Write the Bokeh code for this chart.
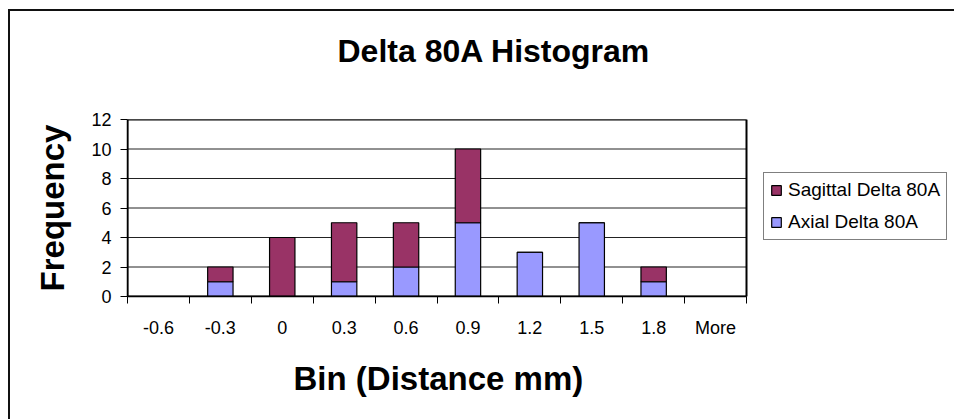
from bokeh.plotting import figure
from bokeh.models import (Range1d, LinearAxis, FixedTicker, Legend,
                          LegendItem, ColumnDataSource, Title)
from bokeh.embed import file_html
from bokeh.resources import INLINE

# Histogram bins and counts per series
categories = ["-0.6", "-0.3", "0", "0.3", "0.6", "0.9", "1.2", "1.5", "1.8", "More"]
axial = [0, 1, 0, 1, 2, 5, 3, 5, 1, 0]
sagittal = [0, 1, 4, 4, 3, 5, 0, 0, 1, 0]
y_ticks = [0, 2, 4, 6, 8, 10, 12]

AXIAL_COLOR = "#9999FF"
SAGITTAL_COLOR = "#993366"
FONT = "Liberation Sans"

# page geometry (px): the plotting frame runs to the right edge so that the
# legend can sit beside the bars; the bar area itself ends at AREA_RIGHT
WIDTH, HEIGHT = 954, 419
AREA_LEFT, AREA_RIGHT = 127, 746

n = len(categories)
centers = [i + 0.5 for i in range(n)]
bounds = list(range(n + 1))
x_end = n * (WIDTH - AREA_LEFT) / (AREA_RIGHT - AREA_LEFT)

source = ColumnDataSource(dict(x=centers, axial=axial, sagittal=sagittal))

p = figure(width=WIDTH, height=HEIGHT, output_backend="svg", toolbar_location=None,
           x_range=Range1d(0, x_end), y_range=Range1d(0, max(y_ticks)),
           x_axis_type=None, y_axis_type=None,
           min_border_left=AREA_LEFT, min_border_right=0,
           min_border_top=119, min_border_bottom=123,
           border_fill_color=None, background_fill_color="white",
           outline_line_color=None)

# outer chart border (left and top edges; the rest runs off the page)
p.styles = {
    "background-color": "white",
    "background-image": "linear-gradient(#111, #111), linear-gradient(#111, #111)",
    "background-size": "2px 100%, 100% 2px",
    "background-position": "8px 9px, 8px 9px",
    "background-repeat": "no-repeat",
}

# horizontal gridlines across the bar area only
p.segment(x0=0, x1=n, y0=y_ticks, y1=y_ticks, line_color="#222222", line_width=1)

bars = p.vbar_stack(["axial", "sagittal"], x="x", width=0.41, source=source,
                    fill_color=[AXIAL_COLOR, SAGITTAL_COLOR],
                    line_color="black", line_width=1.2)

# plot-area border
p.quad(left=0, right=n, bottom=0, top=max(y_ticks), fill_color=None,
       line_color="black", line_width=2)

xaxis = LinearAxis(
    ticker=FixedTicker(ticks=centers, minor_ticks=bounds),
    bounds=(0, n),
    major_label_overrides={c: lab for c, lab in zip(centers, categories)},
    axis_line_color="black", axis_line_width=1.5,
    major_tick_line_color=None, major_tick_out=7, major_tick_in=0,
    minor_tick_line_color="black", minor_tick_line_width=1,
    minor_tick_out=7, minor_tick_in=0,
    major_label_standoff=14,
    major_label_text_font=FONT, major_label_text_font_size="18px",
    major_label_text_color="black",
)
p.add_layout(xaxis, "below")

# x-axis caption, centred under the bar area
p.add_layout(Title(text="Bin (Distance mm)", align="left", offset=166,
                   standoff=35, text_font=FONT, text_font_size="33px",
                   text_font_style="bold", text_color="black"), "below")

yaxis = LinearAxis(
    ticker=FixedTicker(ticks=y_ticks),
    axis_label="Frequency",
    axis_line_color="black", axis_line_width=1.5,
    major_tick_line_color="black", major_tick_line_width=1,
    major_tick_out=7, major_tick_in=0,
    minor_tick_line_color=None,
    major_label_standoff=9,
    major_label_text_font=FONT, major_label_text_font_size="18px",
    major_label_text_color="black",
    axis_label_standoff=17,
    axis_label_text_font=FONT, axis_label_text_font_size="33px",
    axis_label_text_font_style="bold", axis_label_text_color="black",
)
p.add_layout(yaxis, "left")

legend = Legend(
    items=[LegendItem(label="Sagittal Delta 80A", renderers=[bars[1]]),
           LegendItem(label="Axial Delta 80A", renderers=[bars[0]])],
    location=(763 - AREA_LEFT, 56),
    border_line_color="black", border_line_width=1,
    background_fill_color="white", background_fill_alpha=1,
    padding=6, spacing=10, margin=0,
    glyph_width=12, glyph_height=12, label_standoff=6,
    label_text_font=FONT, label_text_font_size="19px", label_text_color="black",
)
p.add_layout(legend)

# blank spacer between the frame and the title, then the title itself
p.add_layout(Title(text=" ", text_font_size="1px", standoff=43), "above")
p.add_layout(Title(text="Delta 80A Histogram", align="left", offset=210,
                   standoff=10, text_font=FONT, text_font_size="32px",
                   text_font_style="bold", text_color="black"), "above")

open("out.html", "w").write(file_html(p, INLINE))
